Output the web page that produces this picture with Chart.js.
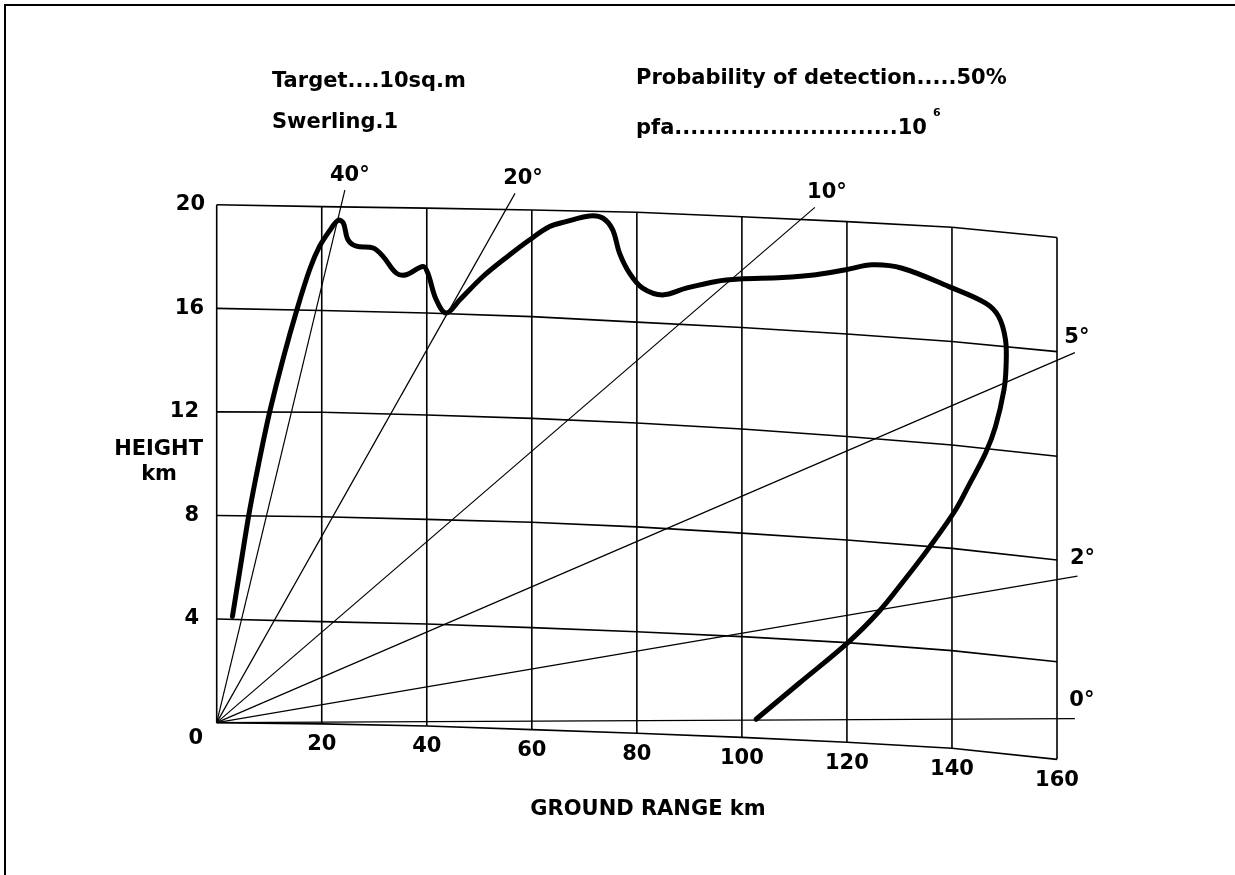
<!DOCTYPE html>
<html>
<head>
<meta charset="utf-8">
<script src="https://cdn.jsdelivr.net/npm/chart.js@4.4.1/dist/chart.umd.min.js"></script>
<style>
  html, body { margin: 0; padding: 0; background: #fff; }
  canvas { display: block; }
</style>
</head>
<body>
<canvas id="c" width="1235" height="875"></canvas>
<script>
// ---------- data ----------
const rangeTicks = [0, 20, 40, 60, 80, 100, 120, 140, 160];
const xTickLabels = ['20', '40', '60', '80', '100', '120', '140', '160'];
const heightTicks = [0, 4, 8, 12, 16, 20];

// curved constant-height lines (height value on chart at each range tick)
const height0  = [0, -0.05, -0.13, -0.27, -0.41, -0.57, -0.76, -0.99, -1.42];
const height4  = [4, 3.90, 3.81, 3.67, 3.51, 3.32, 3.09, 2.78, 2.35];
const height8  = [8, 7.95, 7.85, 7.74, 7.56, 7.32, 7.05, 6.73, 6.28];
const height12 = [12, 11.99, 11.88, 11.75, 11.57, 11.34, 11.05, 10.72, 10.29];
const height16 = [16, 15.92, 15.82, 15.68, 15.47, 15.26, 15.01, 14.72, 14.33];
const height20 = [20, 19.93, 19.87, 19.80, 19.71, 19.54, 19.35, 19.13, 18.74];

// elevation-angle lines from the origin
const angleLabels = ['40°', '20°', '10°', '5°', '2°', '0°'];
const angleEndX = [24.4, 56.8, 113.9, 163.4, 163.9, 163.4];
const angleEndY = [20.57, 20.44, 19.90, 14.29, 5.66, 0.15];

// detection coverage contour (ground range km, height km)
const covRange = [3.0, 4.5, 6.1, 7.4, 8.7, 10.2, 12.7, 15.2, 17.7, 19.6, 21.5, 23.1, 24.1, 25.0, 26.6, 29.8, 31.7, 34.2, 36.1, 39.3, 40.2, 41.8, 43.7, 46.3, 50.7, 55.8, 59.6, 63.4, 66.5, 71.0, 73.5, 75.4, 76.7, 78.6, 81.1, 84.9, 89.4, 95.1, 99.5, 107.7, 114.1, 119.8, 124.8, 130.5, 139.4, 146.4, 148.9, 150.2, 150.3, 149.9, 148.3, 146.4, 143.3, 140.7, 135.6, 130.5, 126.1, 120.4, 110.9, 102.7];
const covHeight = [4.1, 6.0, 8.0, 9.4, 10.7, 12.1, 14.1, 15.9, 17.5, 18.4, 19.0, 19.4, 19.3, 18.65, 18.4, 18.33, 18.0, 17.36, 17.3, 17.62, 17.36, 16.33, 15.82, 16.33, 17.23, 18.07, 18.65, 19.16, 19.35, 19.57, 19.49, 19.03, 18.13, 17.36, 16.78, 16.52, 16.78, 17.04, 17.13, 17.19, 17.30, 17.49, 17.68, 17.55, 16.84, 16.20, 15.68, 14.78, 13.75, 12.85, 11.44, 10.41, 9.2, 8.22, 6.74, 5.39, 4.29, 3.13, 1.52, 0.13];

// ---------- datasets ----------
const FONT = '"DejaVu Sans", "Liberation Sans", Arial, sans-serif';
const datasets = [];
function line(points, width) {
  datasets.push({
    data: points, showLine: true, pointRadius: 0, pointHoverRadius: 0,
    borderColor: '#000', backgroundColor: '#000', borderWidth: width,
    tension: 0, clip: false, fill: false
  });
}
const heightLines = [height0, height4, height8, height12, height16, height20];
heightLines.forEach(h => line(rangeTicks.map((r, i) => ({ x: r, y: h[i] })), 1.6));
rangeTicks.forEach((r, i) => line([{ x: r, y: height0[i] }, { x: r, y: height20[i] }], 1.6));
angleEndX.forEach((ex, i) => line([{ x: 0, y: 0 }, { x: ex, y: angleEndY[i] }], 1.2));
datasets.push({
  data: covRange.map((r, i) => ({ x: r, y: covHeight[i] })),
  showLine: true, pointRadius: 0, pointHoverRadius: 0,
  borderColor: '#000', borderWidth: 5, tension: 0.35, clip: false, fill: false,
  borderCapStyle: 'round', borderJoinStyle: 'round'
});

// ---------- text / frame plugin ----------
const textPlugin = {
  id: 'texts',
  beforeDraw(chart) {
    const ctx = chart.ctx;
    ctx.save();
    ctx.fillStyle = '#fff';
    ctx.fillRect(0, 0, chart.width, chart.height);
    ctx.strokeStyle = '#000';
    ctx.lineWidth = 2;
    ctx.beginPath();
    ctx.moveTo(5, 875); ctx.lineTo(5, 5); ctx.lineTo(1235, 5);
    ctx.stroke();
    ctx.restore();
  },
  afterDraw(chart) {
    const ctx = chart.ctx;
    const xs = chart.scales.x, ys = chart.scales.y;
    ctx.save();
    ctx.fillStyle = '#000';
    ctx.font = 'bold 21px ' + FONT;
    ctx.textBaseline = 'alphabetic';
    ctx.textAlign = 'left';
    ctx.fillText('Target....10sq.m', 272, 87);
    ctx.fillText('Swerling.1', 272, 128);
    ctx.fillText('Probability of detection.....50%', 636, 84);
    ctx.fillText('pfa............................10', 636, 134);
    ctx.font = 'bold 11px ' + FONT;
    ctx.fillText('6', 933, 116);

    ctx.font = 'bold 21px ' + FONT;
    ctx.textBaseline = 'middle';
    // y tick labels
    const yRight = { 0: 203, 4: 199, 8: 199, 12: 199, 16: 204, 20: 205 };
    ctx.textAlign = 'right';
    heightTicks.forEach(v => {
      const dy = v === 0 ? 16 : 0;
      ctx.fillText(String(v), yRight[v], ys.getPixelForValue(v) + dy);
    });
    // x tick labels following the curved ground line
    ctx.textAlign = 'center';
    xTickLabels.forEach((t, i) => {
      const k = i + 1;
      ctx.fillText(t, xs.getPixelForValue(rangeTicks[k]), ys.getPixelForValue(height0[k]) + 21);
    });
    // axis titles
    ctx.textAlign = 'right';
    ctx.fillText('HEIGHT', 203, 450);
    ctx.fillText('km', 177, 475);
    ctx.textAlign = 'center';
    ctx.fillText('GROUND RANGE km', 648, 810);
    // angle labels
    const off = [[5, -14], [8, -15], [12, -15], [2, -15], [5, -18], [7, -18]];
    angleLabels.forEach((t, i) => {
      const px = xs.getPixelForValue(angleEndX[i]);
      const py = ys.getPixelForValue(angleEndY[i]);
      ctx.fillText(t, px + off[i][0], py + off[i][1]);
    });
    ctx.restore();
  }
};

new Chart(document.getElementById('c'), {
  type: 'scatter',
  data: { datasets },
  options: {
    responsive: false,
    devicePixelRatio: 1,
    animation: false,
    events: [],
    layout: { padding: { left: 216.7, right: 178, top: 204.8, bottom: 152.4 } },
    scales: {
      x: { type: 'linear', min: 0, max: 160, display: false },
      y: { type: 'linear', min: 0, max: 20, display: false }
    },
    plugins: { legend: { display: false }, tooltip: { enabled: false }, title: { display: false } }
  },
  plugins: [textPlugin]
});
</script>
</body>
</html>
